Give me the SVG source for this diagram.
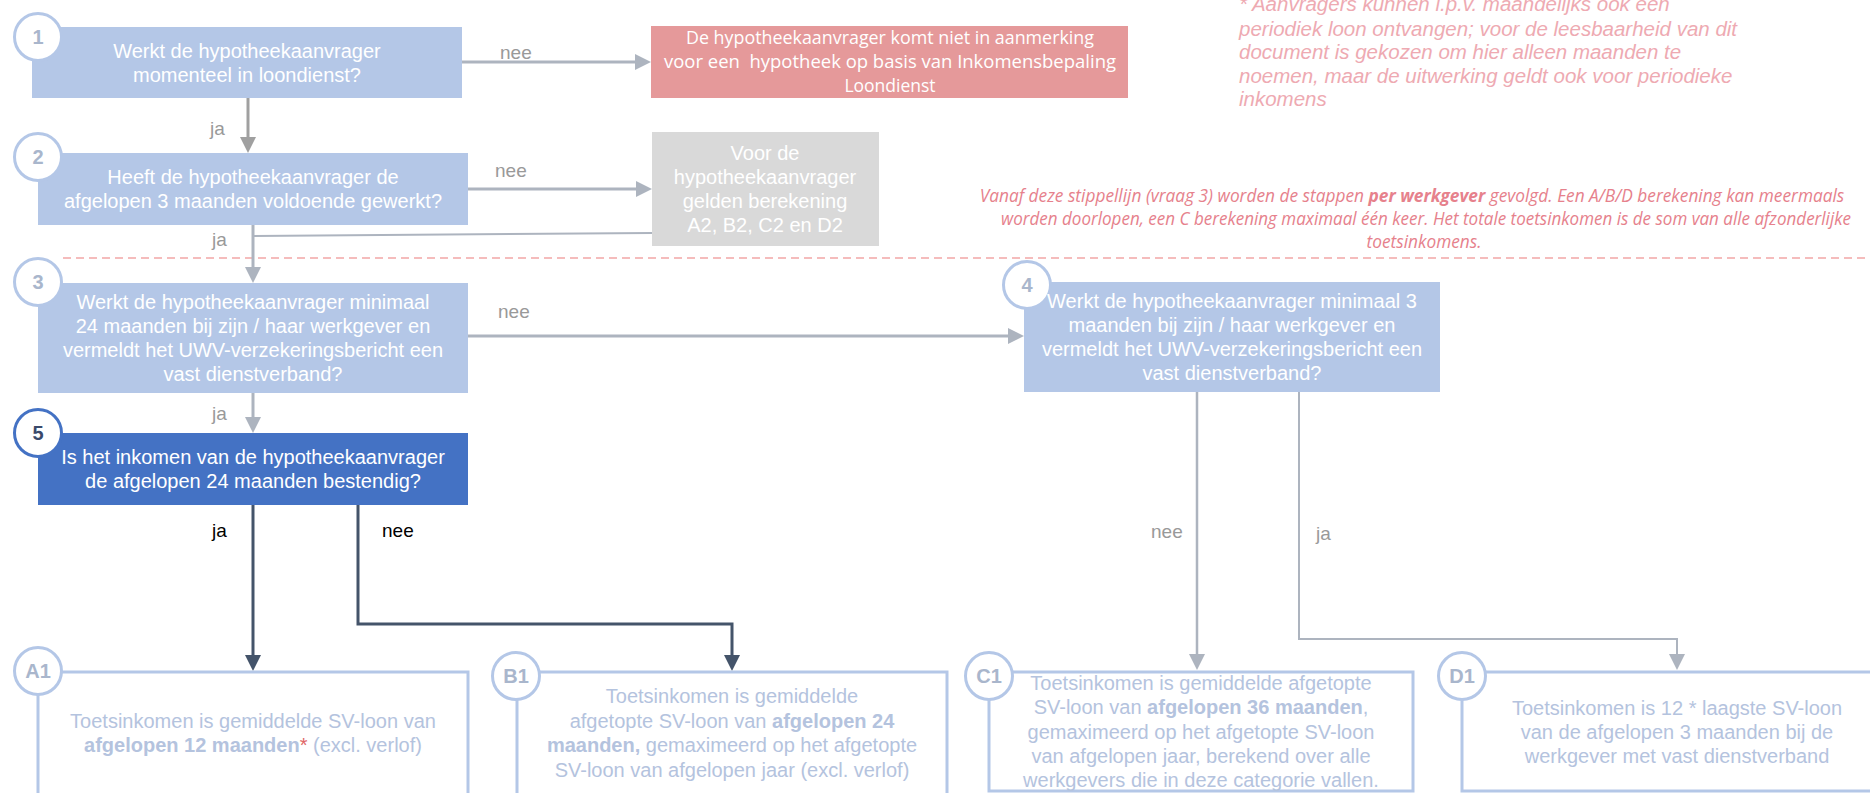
<svg xmlns="http://www.w3.org/2000/svg" width="1870" height="793" viewBox="0 0 1870 793">
<defs>
<style>
.box{fill:#b4c7e7}
.t{font-family:"Liberation Sans",Arial,sans-serif;font-size:20px;fill:#ffffff;text-anchor:middle}
.num{font-family:"Liberation Sans",Arial,sans-serif;font-size:20px;font-weight:bold;fill:#a9b6cc;text-anchor:middle}
.circ{fill:#ffffff;stroke:#b4c7e7;stroke-width:3}
.lbl{font-family:"Liberation Sans",Arial,sans-serif;font-size:19px;fill:#999999}
.lblk{font-family:"Liberation Sans",Arial,sans-serif;font-size:19px;fill:#000000}
.res{fill:none;stroke:#b4c7e7;stroke-width:3}
.rt{font-family:"Liberation Sans",Arial,sans-serif;font-size:20px;fill:#b4c3de;text-anchor:middle}
.c{fill:none;stroke:#adb4bf;stroke-width:3}
.cd{fill:none;stroke:#44546a;stroke-width:3}
.cal{font-family:"Open Sans",sans-serif}
</style>
<marker id="ag" markerUnits="userSpaceOnUse" markerWidth="16" markerHeight="16" viewBox="0 0 16 16" refX="8" refY="8" orient="auto"><path d="M0,0 L16,8 L0,16 z" fill="#adb4bf"/></marker>
<marker id="ag2" markerUnits="userSpaceOnUse" markerWidth="16" markerHeight="16" viewBox="0 0 16 16" refX="8" refY="8" orient="auto"><path d="M0,0 L16,8 L0,16 z" fill="#a0a0a0"/></marker>
<marker id="ad" markerUnits="userSpaceOnUse" markerWidth="16" markerHeight="16" viewBox="0 0 16 16" refX="8" refY="8" orient="auto"><path d="M0,0 L16,8 L0,16 z" fill="#44546a"/></marker>
</defs>
<rect width="1870" height="793" fill="#ffffff"/>

<g id="notes">
<text font-family="'Liberation Sans',Arial,sans-serif" font-size="20.5" font-style="italic" fill="#eeaab2">
<tspan x="1239" y="11">* Aanvragers kunnen i.p.v. maandelijks ook een</tspan>
<tspan x="1239" y="35.5">periodiek loon ontvangen; voor de leesbaarheid van dit</tspan>
<tspan x="1239" y="59">document is gekozen om hier alleen maanden te</tspan>
<tspan x="1239" y="82.5">noemen, maar de uitwerking geldt ook voor periodieke</tspan>
<tspan x="1239" y="106">inkomens</tspan>
</text>
<text class="cal" x="1412" y="202" font-size="17.3" font-style="italic" fill="#e6818c" text-anchor="middle">Vanaf deze stippellijn (vraag 3) worden de stappen <tspan font-weight="bold">per werkgever</tspan> gevolgd. Een A/B/D berekening kan meermaals</text>
<text class="cal" x="1426" y="225" font-size="17.3" font-style="italic" fill="#e6818c" text-anchor="middle" textLength="850" lengthAdjust="spacingAndGlyphs">worden doorlopen, een C berekening maximaal één keer. Het totale toetsinkomen is de som van alle afzonderlijke</text>
<text class="cal" x="1424" y="248" font-size="17.3" font-style="italic" fill="#e6818c" text-anchor="middle">toetsinkomens.</text>
<line x1="63" y1="258" x2="1870" y2="258" stroke="#f2a7a7" stroke-width="1.5" stroke-dasharray="8 5"/>
</g>

<g id="connectors">
<line class="c" x1="248" y1="98" x2="248" y2="145" style="stroke:#a0a0a0" marker-end="url(#ag2)"/>
<line class="c" x1="462" y1="62" x2="643" y2="62" marker-end="url(#ag)"/>
<line class="c" x1="468" y1="189" x2="644" y2="189" marker-end="url(#ag)"/>
<line class="c" x1="253" y1="236" x2="652" y2="233" style="stroke-width:2"/>
<line class="c" x1="253" y1="225" x2="253" y2="275" marker-end="url(#ag)"/>
<line class="c" x1="468" y1="336" x2="1016" y2="336" marker-end="url(#ag)"/>
<line class="c" x1="253" y1="393" x2="253" y2="425" marker-end="url(#ag)"/>
<line class="cd" x1="253" y1="505" x2="253" y2="663" marker-end="url(#ad)"/>
<path class="cd" d="M358,505 V624 H732 V663" marker-end="url(#ad)"/>
<line class="c" x1="1197" y1="392" x2="1197" y2="662" style="stroke-width:2.5" marker-end="url(#ag)"/>
<path class="c" d="M1299,392 V639 H1677 V662" style="stroke-width:2" marker-end="url(#ag)"/>
<text class="lbl" x="500" y="59">nee</text>
<text class="lbl" x="210" y="135">ja</text>
<text class="lbl" x="495" y="177">nee</text>
<text class="lbl" x="212" y="246">ja</text>
<text class="lbl" x="498" y="318">nee</text>
<text class="lbl" x="212" y="420">ja</text>
<text class="lblk" x="212" y="537">ja</text>
<text class="lblk" x="382" y="537">nee</text>
<text class="lbl" x="1151" y="538">nee</text>
<text class="lbl" x="1316" y="540">ja</text>
</g>

<g id="node1">
<rect class="box" x="32" y="27" width="430" height="71"/>
<circle class="circ" cx="38" cy="37" r="23.5"/>
<text class="num" x="38" y="44">1</text>
<text class="t"><tspan x="247" y="58">Werkt de hypotheekaanvrager</tspan><tspan x="247" y="82">momenteel in loondienst?</tspan></text>
</g>

<g id="nodeRed">
<rect x="651" y="26" width="477" height="72" fill="#e5999a"/>
<text class="cal" font-size="17.5" fill="#ffffff" text-anchor="middle"><tspan x="890" y="44" textLength="408" lengthAdjust="spacingAndGlyphs">De hypotheekaanvrager komt niet in aanmerking</tspan><tspan x="890" y="68" textLength="452" lengthAdjust="spacingAndGlyphs">voor een&#160; hypotheek op basis van Inkomensbepaling</tspan><tspan x="890" y="92">Loondienst</tspan></text>
</g>

<g id="node2">
<rect class="box" x="38" y="153" width="430" height="72"/>
<circle class="circ" cx="38" cy="157" r="23.5"/>
<text class="num" x="38" y="164">2</text>
<text class="t"><tspan x="253" y="184">Heeft de hypotheekaanvrager de</tspan><tspan x="253" y="208">afgelopen 3 maanden voldoende gewerkt?</tspan></text>
</g>

<g id="nodeGrey">
<rect x="652" y="132" width="227" height="114" fill="#d9d9d9"/>
<text class="t"><tspan x="765" y="160">Voor de</tspan><tspan x="765" y="184">hypotheekaanvrager</tspan><tspan x="765" y="208">gelden berekening</tspan><tspan x="765" y="232">A2, B2, C2 en D2</tspan></text>
</g>

<g id="node3">
<rect class="box" x="38" y="283" width="430" height="110"/>
<circle class="circ" cx="38" cy="282" r="23.5"/>
<text class="num" x="38" y="289">3</text>
<text class="t"><tspan x="253" y="309">Werkt de hypotheekaanvrager minimaal</tspan><tspan x="253" y="333">24 maanden bij zijn / haar werkgever en</tspan><tspan x="253" y="357">vermeldt het UWV-verzekeringsbericht een</tspan><tspan x="253" y="381">vast dienstverband?</tspan></text>
</g>

<g id="node4">
<rect class="box" x="1024" y="282" width="416" height="110"/>
<circle class="circ" cx="1027" cy="285" r="23.5"/>
<text class="num" x="1027" y="292">4</text>
<text class="t"><tspan x="1232" y="308">Werkt de hypotheekaanvrager minimaal 3</tspan><tspan x="1232" y="332">maanden bij zijn / haar werkgever en</tspan><tspan x="1232" y="356">vermeldt het UWV-verzekeringsbericht een</tspan><tspan x="1232" y="380">vast dienstverband?</tspan></text>
</g>

<g id="node5">
<rect x="38" y="433" width="430" height="72" fill="#4472c4"/>
<circle cx="38" cy="433" r="23.5" fill="#ffffff" stroke="#4472c4" stroke-width="3"/>
<text class="num" x="38" y="440" style="fill:#3a4a6b">5</text>
<text class="t"><tspan x="253" y="464">Is het inkomen van de hypotheekaanvrager</tspan><tspan x="253" y="488">de afgelopen 24 maanden bestendig?</tspan></text>
</g>

<g id="A1">
<rect class="res" x="38" y="672" width="430" height="160"/>
<circle class="circ" cx="38" cy="671" r="23.5"/>
<text class="num" x="38" y="678">A1</text>
<text class="rt"><tspan x="253" y="728">Toetsinkomen is gemiddelde SV-loon van</tspan><tspan x="253" y="752"><tspan font-weight="bold">afgelopen 12 maanden</tspan><tspan fill="#e06666">*</tspan> (excl. verlof)</tspan></text>
</g>

<g id="B1">
<rect class="res" x="517" y="672" width="430" height="160"/>
<circle class="circ" cx="516" cy="676" r="23.5"/>
<text class="num" x="516" y="683">B1</text>
<text class="rt"><tspan x="732" y="703">Toetsinkomen is gemiddelde</tspan><tspan x="732" y="728">afgetopte SV-loon van <tspan font-weight="bold">afgelopen 24</tspan></tspan><tspan x="732" y="752"><tspan font-weight="bold">maanden,</tspan> gemaximeerd op het afgetopte</tspan><tspan x="732" y="777">SV-loon van afgelopen jaar (excl. verlof)</tspan></text>
</g>

<g id="C1">
<rect class="res" x="989" y="672" width="424" height="119"/>
<circle class="circ" cx="989" cy="676" r="23.5"/>
<text class="num" x="989" y="683">C1</text>
<text class="rt"><tspan x="1201" y="690">Toetsinkomen is gemiddelde afgetopte</tspan><tspan x="1201" y="714">SV-loon van <tspan font-weight="bold">afgelopen 36 maanden</tspan>,</tspan><tspan x="1201" y="739">gemaximeerd op het afgetopte SV-loon</tspan><tspan x="1201" y="763">van afgelopen jaar, berekend over alle</tspan><tspan x="1201" y="787">werkgevers die in deze categorie vallen.</tspan></text>
</g>

<g id="D1">
<rect class="res" x="1462" y="672" width="430" height="119"/>
<circle class="circ" cx="1462" cy="676" r="23.5"/>
<text class="num" x="1462" y="683">D1</text>
<text class="rt"><tspan x="1677" y="715">Toetsinkomen is 12 * laagste SV-loon</tspan><tspan x="1677" y="739">van de afgelopen 3 maanden bij de</tspan><tspan x="1677" y="763">werkgever met vast dienstverband</tspan></text>
</g>
</svg>
